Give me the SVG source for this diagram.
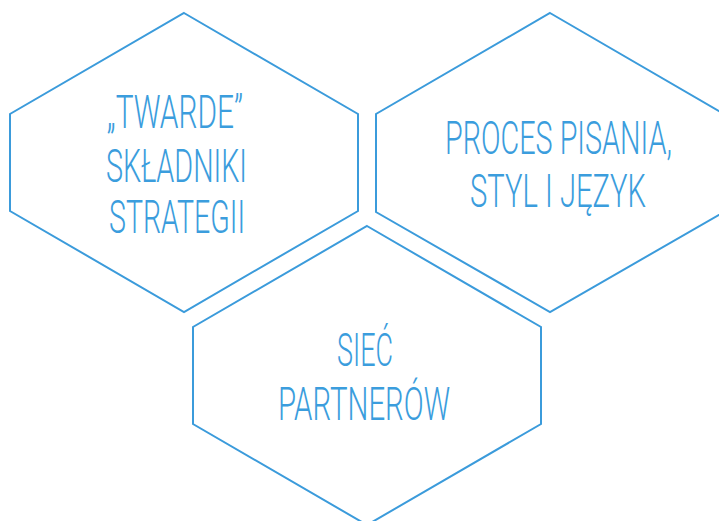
<svg xmlns="http://www.w3.org/2000/svg" width="719" height="521" viewBox="0 0 719 521">
  <style>
    .hex { fill: none; stroke: #3b9bdb; stroke-width: 2; stroke-linejoin: miter; }
    .lbl { fill: #3b9ddd; font-family: Roboto, "Liberation Sans", sans-serif; font-weight: 300; font-size: 46px; }
  </style>
  <rect width="719" height="521" fill="#ffffff"/>

  <g id="node-twarde">
    <polygon class="hex" points="184,13 358,114 358,211 184,312 10,211 10,114"/>
    <text class="lbl" x="107" y="128" textLength="136" lengthAdjust="spacingAndGlyphs">„TWARDE”</text>
    <text class="lbl" x="106" y="182" textLength="141" lengthAdjust="spacingAndGlyphs">SKŁADNIKI</text>
    <text class="lbl" x="109" y="233" textLength="136" lengthAdjust="spacingAndGlyphs">STRATEGII</text>
  </g>

  <g id="node-proces">
    <polygon class="hex" points="550,13 724,114 724,212 550,312 376,212 376,114"/>
    <text class="lbl" x="445" y="154" textLength="227" lengthAdjust="spacingAndGlyphs">PROCES PISANIA,</text>
    <text class="lbl" x="470" y="207" textLength="176" lengthAdjust="spacingAndGlyphs">STYL I JĘZYK</text>
  </g>

  <g id="node-siec">
    <polygon class="hex" points="367,226 541,327 541,424 367,525 193,424 193,327"/>
    <text class="lbl" x="337" y="366" textLength="56" lengthAdjust="spacingAndGlyphs">SIEĆ</text>
    <text class="lbl" x="278" y="420" textLength="172" lengthAdjust="spacingAndGlyphs">PARTNERÓW</text>
  </g>
</svg>
